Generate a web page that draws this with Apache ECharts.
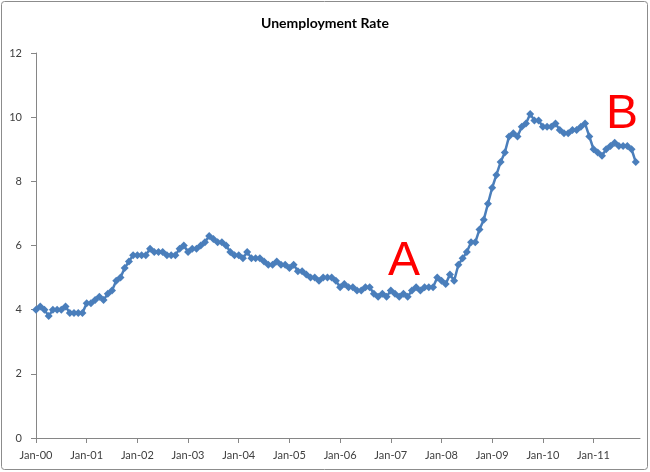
<!DOCTYPE html>
<html>
<head>
<meta charset="utf-8">
<script src="https://cdn.jsdelivr.net/npm/echarts@6/dist/echarts.min.js"></script>
<style>
  html, body { margin: 0; padding: 0; background: #fff; }
  #main { width: 650px; height: 472px; }
</style>
</head>
<body>
<div id="main"></div>
<script>
var chartDom = document.getElementById('main');
var myChart = echarts.init(chartDom);
var option;

// monthly unemployment rate, one array per year
var rate2000 = [4.0, 4.1, 4.0, 3.8, 4.0, 4.0, 4.0, 4.1, 3.9, 3.9, 3.9, 3.9];
var rate2001 = [4.2, 4.2, 4.3, 4.4, 4.3, 4.5, 4.6, 4.9, 5.0, 5.3, 5.5, 5.7];
var rate2002 = [5.7, 5.7, 5.7, 5.9, 5.8, 5.8, 5.8, 5.7, 5.7, 5.7, 5.9, 6.0];
var rate2003 = [5.8, 5.9, 5.9, 6.0, 6.1, 6.3, 6.2, 6.1, 6.1, 6.0, 5.8, 5.7];
var rate2004 = [5.7, 5.6, 5.8, 5.6, 5.6, 5.6, 5.5, 5.4, 5.4, 5.5, 5.4, 5.4];
var rate2005 = [5.3, 5.4, 5.2, 5.2, 5.1, 5.0, 5.0, 4.9, 5.0, 5.0, 5.0, 4.9];
var rate2006 = [4.7, 4.8, 4.7, 4.7, 4.6, 4.6, 4.7, 4.7, 4.5, 4.4, 4.5, 4.4];
var rate2007 = [4.6, 4.5, 4.4, 4.5, 4.4, 4.6, 4.7, 4.6, 4.7, 4.7, 4.7, 5.0];
var rate2008 = [4.9, 4.8, 5.1, 4.9, 5.4, 5.6, 5.8, 6.1, 6.1, 6.5, 6.8, 7.3];
var rate2009 = [7.8, 8.2, 8.6, 8.9, 9.4, 9.5, 9.4, 9.7, 9.8, 10.1, 9.9, 9.9];
var rate2010 = [9.7, 9.7, 9.7, 9.8, 9.6, 9.5, 9.5, 9.6, 9.6, 9.7, 9.8, 9.4];
var rate2011 = [9.0, 8.9, 8.8, 9.0, 9.1, 9.2, 9.1, 9.1, 9.1, 9.0, 8.6, null];

var years = ['00', '01', '02', '03', '04', '05', '06', '07', '08', '09', '10', '11'];
var months = ['Jan', 'Feb', 'Mar', 'Apr', 'May', 'Jun', 'Jul', 'Aug', 'Sep', 'Oct', 'Nov', 'Dec'];
var yTicks = [0, 2, 4, 6, 8, 10, 12];

var categories = [];
years.forEach(function (y) {
    months.forEach(function (m) {
        categories.push(m + '-' + y);
    });
});

var rates = [].concat(rate2000, rate2001, rate2002, rate2003, rate2004, rate2005,
    rate2006, rate2007, rate2008, rate2009, rate2010, rate2011);

var isYearStart = function (index) {
    return index % 12 === 0;
};

var axisGrey = '#868686';
var textColor = '#404040';
var fontFam = 'Lato, "Liberation Sans", sans-serif';

option = {
    animation: false,
    title: {
        text: 'Unemployment Rate',
        left: 'center',
        top: 11,
        textStyle: {
            fontFamily: fontFam,
            fontSize: 14,
            fontWeight: 'bold',
            color: '#000'
        }
    },
    grid: {
        left: 36,
        right: 10,
        top: 53,
        bottom: 34
    },
    xAxis: {
        type: 'category',
        data: categories,
        boundaryGap: false,
        axisLine: { lineStyle: { color: axisGrey, width: 1 } },
        axisTick: {
            interval: isYearStart,
            length: 5,
            lineStyle: { color: axisGrey }
        },
        axisLabel: {
            interval: isYearStart,
            margin: 12,
            color: textColor,
            fontFamily: fontFam,
            fontSize: 11
        },
        splitLine: { show: false }
    },
    yAxis: {
        type: 'value',
        min: yTicks[0],
        max: yTicks[yTicks.length - 1],
        interval: 2,
        axisLine: { show: true, lineStyle: { color: axisGrey, width: 1 } },
        axisTick: { show: true, length: 5, lineStyle: { color: axisGrey } },
        axisLabel: {
            margin: 14,
            color: textColor,
            fontFamily: fontFam,
            fontSize: 11
        },
        splitLine: { show: false }
    },
    graphic: {
        elements: [
            {
                type: 'rect',
                shape: { x: 1.5, y: 1.5, width: 646, height: 468, r: 3 },
                style: { fill: 'none', stroke: '#8c8c8c', lineWidth: 1 },
                silent: true
            },
            {
                type: 'text',
                left: 388,
                top: 238,
                style: {
                    text: 'A',
                    fill: '#ff0000',
                    fontFamily: '"Liberation Sans", Arial, sans-serif',
                    fontSize: 48
                }
            },
            {
                type: 'text',
                left: 606,
                top: 91,
                style: {
                    text: 'B',
                    fill: '#ff0000',
                    fontFamily: '"Liberation Sans", Arial, sans-serif',
                    fontSize: 48
                }
            }
        ]
    },
    series: [
        {
            name: 'Unemployment Rate',
            type: 'line',
            data: rates,
            symbol: 'diamond',
            symbolSize: 8,
            showAllSymbol: true,
            lineStyle: { color: '#4a7ebb', width: 2.5 },
            itemStyle: { color: '#4a7ebb' },
            connectNulls: false
        }
    ]
};

option && myChart.setOption(option);
</script>
</body>
</html>
